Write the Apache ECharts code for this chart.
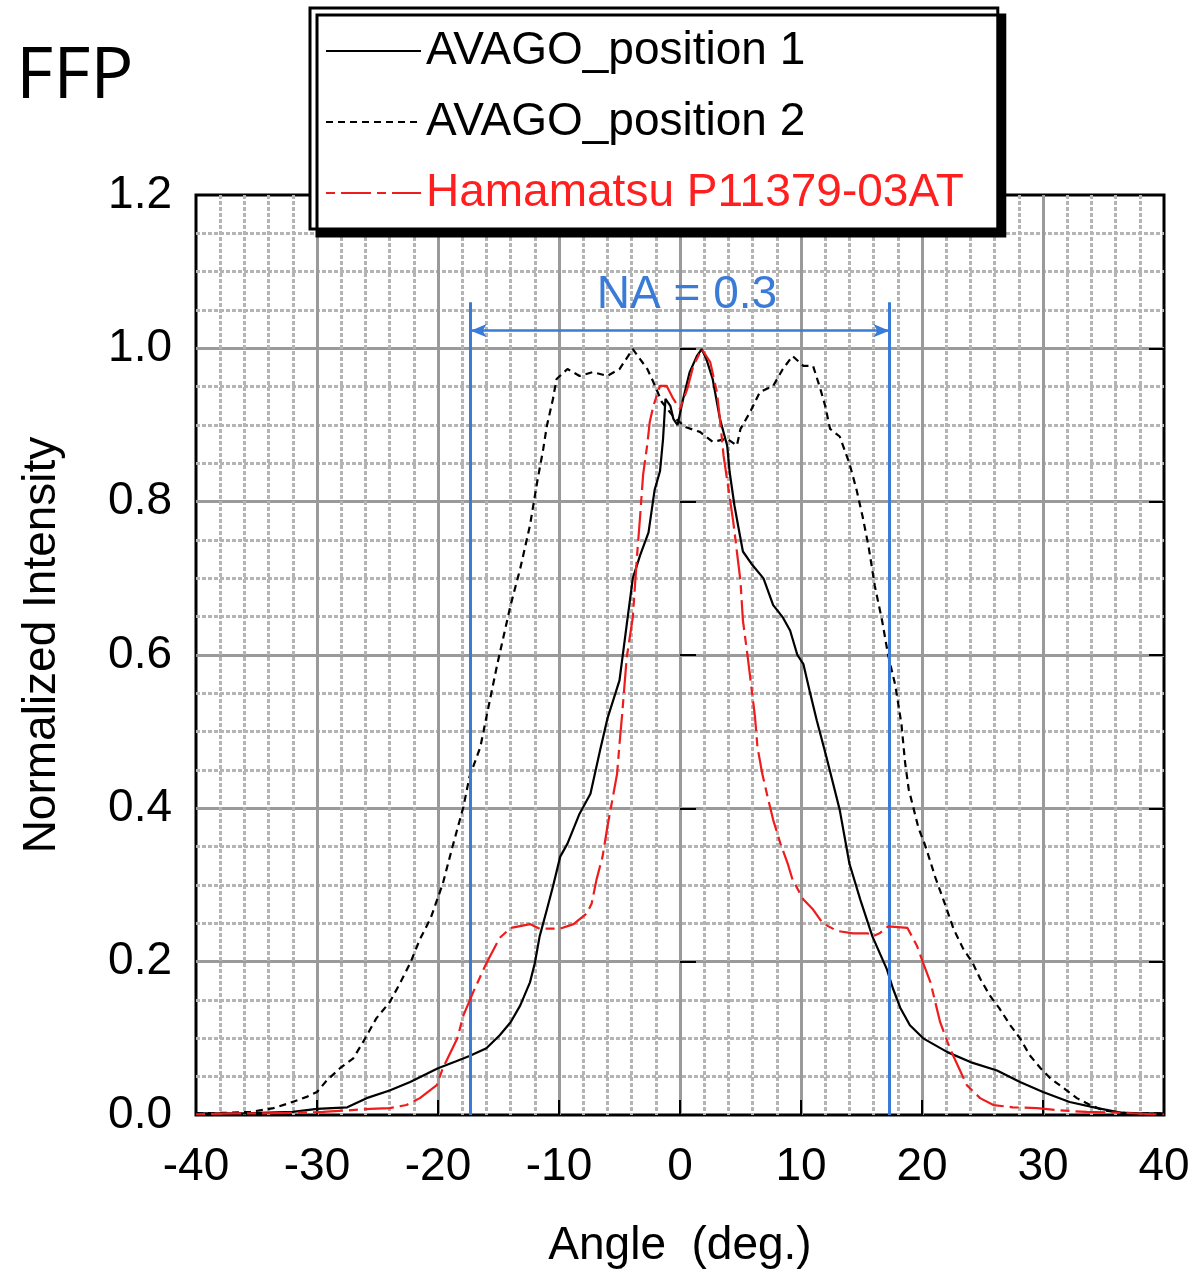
<!DOCTYPE html>
<html>
<head>
<meta charset="utf-8">
<script src="https://cdn.jsdelivr.net/npm/echarts@6/dist/echarts.min.js"></script>
<style>
html,body{margin:0;padding:0;background:#fff;}
#chart{width:1194px;height:1274px;}
</style>
</head>
<body>
<div id="chart"></div>
<script>
// ---- data ----
const xTicks = [-40, -30, -20, -10, 0, 10, 20, 30, 40];
const yTicks = [0.0, 0.2, 0.4, 0.6, 0.8, 1.0, 1.2];

const pos1Angle = [-40,-36,-32,-30,-27.5,-25.9,-24,-22.3,-20,-18.5,-17.4,-16,-14.9,-14,-13.2,-12.4,-12,-11.6,-11,-10.5,-9.9,-9.3,-8.3,-7.4,-6.6,-6,-5,-4.4,-3.9,-3.3,-2.6,-2.1,-1.65,-1.4,-1.2,-0.8,-0.55,-0.2,0.2,0.8,1.4,1.8,2.2,2.7,3.3,3.9,4.1,4.5,4.8,5.2,6.0,6.9,7.7,8.5,9.1,9.7,10.2,10.7,11.3,12.1,13.2,14.0,14.9,15.9,17.1,17.6,18.2,19.0,20.1,22.1,24.0,26.2,28.1,30.0,32.2,34.5,36.4,38,40];
const pos1Value = [0.002,0.002,0.004,0.008,0.010,0.022,0.032,0.043,0.061,0.070,0.077,0.087,0.104,0.121,0.143,0.173,0.198,0.233,0.268,0.298,0.337,0.354,0.393,0.419,0.476,0.517,0.567,0.640,0.700,0.730,0.760,0.815,0.840,0.882,0.934,0.925,0.908,0.900,0.930,0.969,0.990,0.999,0.985,0.960,0.908,0.873,0.839,0.795,0.769,0.735,0.717,0.700,0.665,0.649,0.632,0.600,0.588,0.554,0.515,0.467,0.398,0.328,0.281,0.233,0.190,0.165,0.140,0.117,0.100,0.082,0.069,0.058,0.043,0.030,0.017,0.009,0.003,0.002,0.002];

const pos2Angle = [-40,-37,-35.5,-33.6,-32.2,-30.8,-30,-29.2,-28.1,-27,-26.2,-25.1,-24,-23.1,-22.3,-21.5,-20.6,-19.6,-18.8,-17.9,-17.4,-16.5,-16,-15.1,-14,-13.2,-12.4,-11.8,-11.3,-11,-10.5,-10.2,-9.3,-8.3,-7.2,-6,-5,-3.9,-3.3,-2.7,-2.2,-1.5,-0.5,0.5,1.65,2.7,3.9,4.7,5.0,5.8,6.6,7.7,8.5,9.3,10.2,11.0,11.6,12.0,12.4,13.2,14.0,14.6,15.1,15.6,16.1,16.7,17.2,17.8,18.3,18.6,18.9,19.7,20.3,21.1,21.9,22.6,23.4,24.2,24.8,25.6,26.4,27.3,28.1,28.9,29.8,30.6,31.7,32.8,33.9,35,36.4,38,40];
const pos2Value = [0.002,0.003,0.004,0.009,0.016,0.024,0.030,0.045,0.061,0.074,0.095,0.126,0.147,0.173,0.198,0.229,0.257,0.302,0.350,0.402,0.441,0.480,0.519,0.588,0.665,0.713,0.769,0.826,0.869,0.899,0.934,0.960,0.973,0.964,0.969,0.964,0.973,0.999,0.986,0.973,0.956,0.930,0.910,0.897,0.891,0.878,0.882,0.873,0.895,0.917,0.943,0.951,0.973,0.990,0.977,0.977,0.947,0.925,0.895,0.885,0.850,0.815,0.780,0.740,0.690,0.645,0.600,0.560,0.510,0.460,0.425,0.375,0.350,0.310,0.275,0.243,0.217,0.198,0.178,0.156,0.139,0.117,0.100,0.078,0.061,0.048,0.035,0.022,0.013,0.006,0.003,0.002,0.002];

const hamaAngle = [-40,-37,-35.5,-31.6,-29.5,-27.5,-25.6,-24,-22.6,-21.5,-20.1,-19.6,-18.4,-17.9,-17.1,-16,-14.9,-14,-13,-12.4,-11.6,-9.9,-8.8,-7.7,-7.3,-6.9,-6.4,-6.0,-5.5,-5.2,-5.0,-4.8,-4.4,-3.9,-3.55,-3.3,-3.05,-2.7,-2.5,-2.2,-1.65,-1.1,-0.55,0,0.6,1.1,1.8,2.5,3.05,3.3,3.6,4.0,4.4,4.7,5.0,5.2,5.6,6.0,6.2,6.4,6.8,7.3,7.7,8.3,8.9,9.3,10.2,11.0,11.8,13.0,14.3,15.5,15.9,16.5,17.2,18.8,19.6,20.1,20.7,21.5,22.3,23.7,24.8,25.9,27.5,29.5,31.4,33.6,36.4,39,40];
const hamaValue = [0.001,0.002,0.002,0.003,0.004,0.006,0.008,0.009,0.013,0.022,0.039,0.061,0.100,0.130,0.160,0.198,0.231,0.244,0.247,0.249,0.243,0.243,0.249,0.263,0.276,0.307,0.337,0.376,0.419,0.445,0.484,0.519,0.597,0.649,0.730,0.780,0.835,0.875,0.904,0.925,0.951,0.951,0.934,0.921,0.947,0.977,0.999,0.982,0.943,0.908,0.860,0.817,0.774,0.735,0.696,0.645,0.597,0.545,0.519,0.480,0.445,0.411,0.385,0.354,0.328,0.307,0.281,0.268,0.250,0.240,0.237,0.237,0.233,0.237,0.246,0.244,0.220,0.198,0.173,0.121,0.087,0.039,0.022,0.013,0.010,0.009,0.006,0.004,0.003,0.001,0.001];

const naAngle = [-17.3, 17.3];
const naTop = 1.06;
const naArrowLevel = 1.023;
const naText = 'NA = 0.3';

const seriesNames = ['AVAGO_position 1', 'AVAGO_position 2', 'Hamamatsu P11379-03AT'];

// ---- build ----
const zip = (a, b) => a.map((v, i) => [v, b[i]]);
const FONT = 'Liberation Sans';
const BLUE = '#3a7bd8';
const RED = '#ee1c1c';

const chart = echarts.init(document.getElementById('chart'), null, {renderer: 'canvas'});
const option = {
  animation: false,
  backgroundColor: '#fff',
  grid: {
    left: 196, right: 30, top: 195, bottom: 154,
    show: true, borderColor: '#000', borderWidth: 3, backgroundColor: '#fff'
  },
  legend: {
    orient: 'vertical', left: 310, top: 8,
    padding: [20, 34, 13, 15], itemGap: 25, itemWidth: 95, itemHeight: 45,
    backgroundColor: '#fff', borderColor: '#000', borderWidth: 3, borderRadius: 0,
    shadowColor: '#000', shadowBlur: 0, shadowOffsetX: 7, shadowOffsetY: 7,
    selectedMode: false, z: 20,
    itemStyle: {color: 'rgba(0,0,0,0)', borderColor: 'rgba(0,0,0,0)', borderWidth: 0},
    textStyle: {fontSize: 46, fontFamily: FONT, color: '#000'},
    data: [
      {name: seriesNames[0]},
      {name: seriesNames[1]},
      {name: seriesNames[2], textStyle: {color: '#ff1f1f'}}
    ]
  },
  graphic: [
    {type: 'text', left: 16, top: 41, z: 30,
     style: {text: 'FFP', fontSize: 72, fontFamily: 'Open Sans', fill: '#000'}},
    {type: 'text', x: 42, y: 645, rotation: Math.PI / 2, z: 30,
     style: {text: 'Normalized Intensity', fontSize: 46, fontFamily: FONT, fill: '#000',
             textAlign: 'center', textVerticalAlign: 'middle'}}
  ],
  xAxis: [{
    type: 'value', min: -40, max: 40, interval: 10, position: 'bottom',
    name: 'Angle  (deg.)', nameLocation: 'middle', nameGap: 108,
    nameTextStyle: {fontSize: 46, fontFamily: FONT, color: '#000'},
    axisLine: {show: false},
    axisTick: {show: true, inside: true, length: 15, lineStyle: {color: '#000', width: 2}},
    axisLabel: {fontSize: 46, fontFamily: FONT, color: '#000', margin: 29},
    splitLine: {show: true, showMinLine: false, showMaxLine: false, lineStyle: {color: '#9a9a9a', width: 3}},
    minorTick: {show: false, splitNumber: 5},
    minorSplitLine: {show: true, lineStyle: {color: '#b4b4b4', width: 3, type: [4, 2]}}
  }],
  yAxis: [{
    type: 'value', min: 0, max: 1.2, interval: 0.2, position: 'left',
    axisLine: {show: false},
    axisTick: {show: true, inside: true, length: 16, lineStyle: {color: '#000', width: 2}},
    axisLabel: {fontSize: 46, fontFamily: FONT, color: '#000', margin: 24,
      formatter: v => v.toFixed(1)},
    splitLine: {show: true, showMinLine: false, showMaxLine: false, lineStyle: {color: '#9a9a9a', width: 3}},
    minorTick: {show: false, splitNumber: 4},
    minorSplitLine: {show: true, lineStyle: {color: '#b4b4b4', width: 3, type: [4, 2]}}
  }, {
    type: 'value', min: 0, max: 1.2, interval: 0.2, position: 'right',
    axisLine: {show: false}, axisLabel: {show: false}, splitLine: {show: false},
    axisTick: {show: true, inside: true, length: 15, lineStyle: {color: '#000', width: 2}}
  }],
  series: [
    {name: seriesNames[0], type: 'line', data: zip(pos1Angle, pos1Value), symbol: 'none',
     lineStyle: {color: '#000', width: 2.2, type: 'solid'}, itemStyle: {color: '#000'}, z: 4},
    {name: seriesNames[1], type: 'line', data: zip(pos2Angle, pos2Value), symbol: 'none',
     lineStyle: {color: '#000', width: 2.2, type: [7, 5]}, itemStyle: {color: '#000'}, z: 3},
    {name: seriesNames[2], type: 'line', data: zip(hamaAngle, hamaValue), symbol: 'none',
     lineStyle: {color: RED, width: 2.2, type: [9, 6, 30, 6]}, itemStyle: {color: RED}, z: 5},
    {name: 'NA', type: 'line', data: [], symbol: 'none', z: 6,
     markLine: {
       silent: true, animation: false, symbol: 'none',
       lineStyle: {color: BLUE, width: 3, type: 'solid'},
       label: {show: false},
       data: [
         [{coord: [naAngle[0], 0]}, {coord: [naAngle[0], naTop]}],
         [{coord: [naAngle[1], 0]}, {coord: [naAngle[1], naTop]}],
         [{coord: [naAngle[0], naArrowLevel], symbol: 'arrow', symbolSize: [10, 16],
           lineStyle: {width: 2.5},
           label: {show: true, formatter: naText, position: 'middle', distance: 12,
                   padding: [0, 0, 0, 14],
                   color: BLUE, fontSize: 46, fontFamily: FONT}},
          {coord: [naAngle[1], naArrowLevel], symbol: 'arrow', symbolSize: [10, 16]}]
       ]
     }}
  ]
};
chart.setOption(option);
</script>
</body>
</html>
